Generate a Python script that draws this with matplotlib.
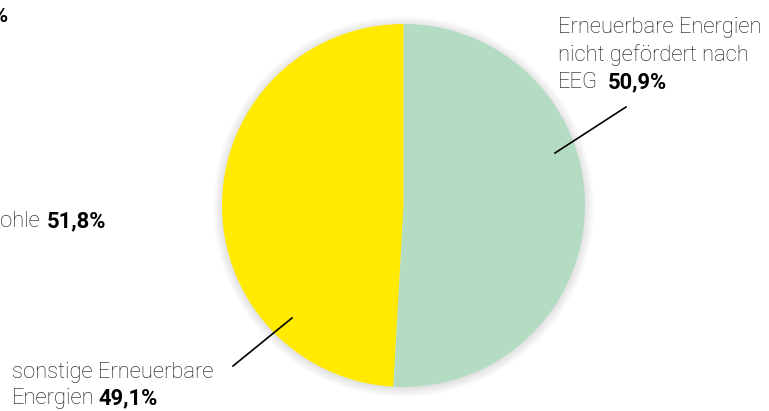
import matplotlib.pyplot as plt
from matplotlib.patches import Circle

# Anteile (Prozent) -- rechter Kreis
labels = ['Erneuerbare Energien\nnicht gefördert nach\nEEG', 'sonstige Erneuerbare\nEnergien']
values = [50.9, 49.1]
colors = ['#b3dcc3', '#ffea00']
# abgeschnittene Werte vom linken Nachbarkreis
left_label = 'Kohle'
left_value = 51.8

W, H = 769, 411
fig = plt.figure(figsize=(W / 100, H / 100), dpi=100)
ax = fig.add_axes([0, 0, 1, 1])
ax.set_xlim(0, W)
ax.set_ylim(0, H)
ax.set_aspect('equal')
ax.axis('off')

cx, cy, r = 403.5, H - 205.5, 181.5

# weicher Schatten um den Kreis
for i in range(10):
    ax.add_patch(Circle((cx, cy - 1), r + 9 - i, color='black', alpha=0.012, lw=0, zorder=0))

ax.pie(values, colors=colors, startangle=90, counterclock=False,
       center=(cx, cy), radius=r, wedgeprops=dict(linewidth=0))
ax.set_xlim(0, W)
ax.set_ylim(0, H)

fam = ['Roboto', 'DejaVu Sans']
fs = 15.8
grey = '#111111'


def pct(v):
    return f'{v:.1f}%'.replace('.', ',')


def txt(x, y, s, bold=False, ha='left'):
    return ax.text(x, H - y, s, fontsize=fs, family=fam, color='black' if bold else grey,
                   va='baseline', ha=ha, fontweight='bold' if bold else 'light')


# Beschriftung rechts
ax.plot([555, 626], [H - 153, H - 107], color='black', lw=1.2)
lines = labels[0].split('\n')
txt(558, 33, lines[0])
txt(558, 61, lines[1])
txt(558, 88, lines[2])
txt(608, 88, pct(values[0]), bold=True)

# Beschriftung links unten
ax.plot([292, 233], [H - 318, H - 366], color='black', lw=1.2)
lines = labels[1].split('\n')
txt(12, 378, lines[0])
txt(12, 404, lines[1])
txt(98, 404, pct(values[1]), bold=True)

# abgeschnittene Beschriftungen des linken Kreises
b = txt(106, 227, pct(left_value), bold=True, ha='right')
fig.canvas.draw()
bb = b.get_window_extent(fig.canvas.get_renderer())
txt(bb.x0 - 6, 227, left_label, ha='right')
txt(8, 22, '%', bold=True, ha='right')

fig.savefig('out.png', dpi=100)
